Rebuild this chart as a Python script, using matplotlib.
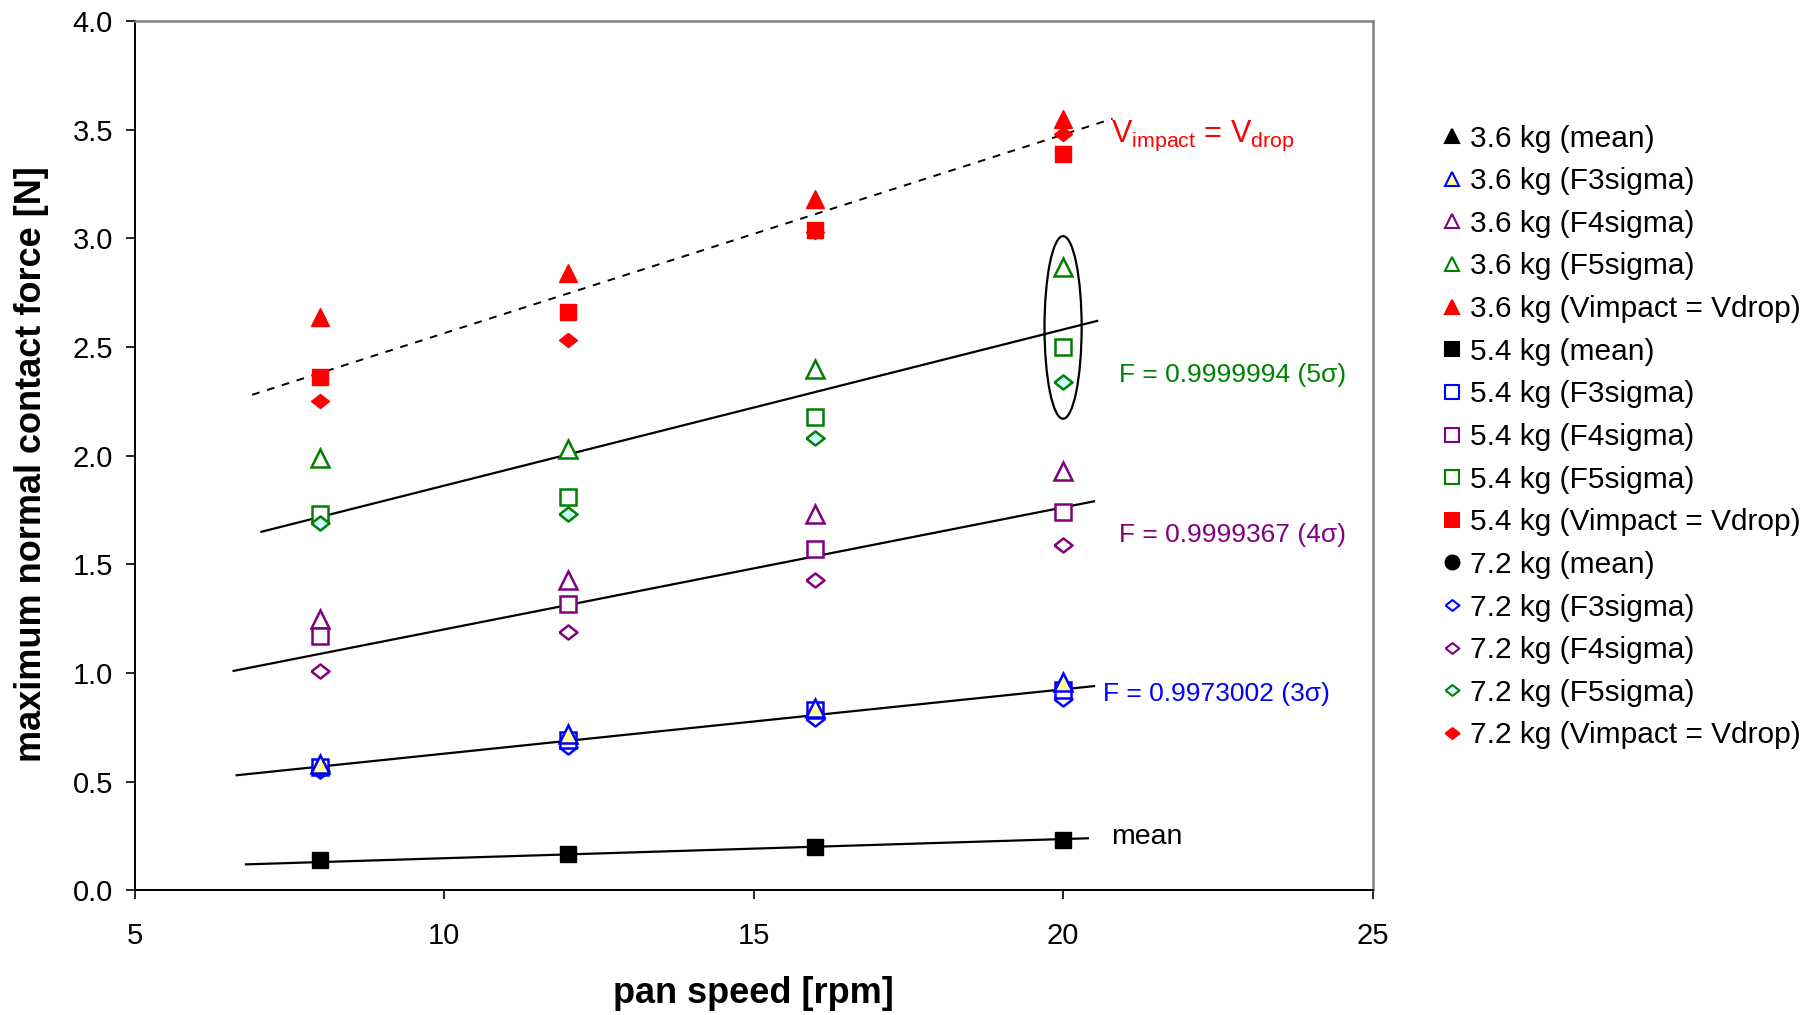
import numpy as np
import matplotlib
matplotlib.use("Agg")
import matplotlib.pyplot as plt
from matplotlib.patches import Ellipse

plt.rcParams['font.family'] = ['Liberation Sans', 'DejaVu Sans']
plt.rcParams['mathtext.fontset'] = 'custom'
plt.rcParams['mathtext.rm'] = 'Liberation Sans'

# pan speed [rpm]
rpm = [8, 12, 16, 20]

# maximum normal contact force [N]
mean_36 = [0.14, 0.17, 0.20, 0.23]
mean_54 = [0.14, 0.17, 0.20, 0.23]
mean_72 = [0.14, 0.17, 0.20, 0.23]
f3_36 = [0.58, 0.72, 0.84, 0.96]
f3_54 = [0.57, 0.69, 0.83, 0.92]
f3_72 = [0.55, 0.66, 0.79, 0.88]
f4_36 = [1.25, 1.43, 1.73, 1.93]
f4_54 = [1.17, 1.32, 1.57, 1.74]
f4_72 = [1.01, 1.19, 1.43, 1.59]
f5_36 = [1.99, 2.03, 2.40, 2.87]
f5_54 = [1.73, 1.81, 2.18, 2.50]
f5_72 = [1.69, 1.73, 2.08, 2.34]
vd_36 = [2.64, 2.84, 3.18, 3.55]
vd_54 = [2.36, 2.66, 3.04, 3.39]
vd_72 = [2.25, 2.53, 3.03, 3.48]

# trend line end points (x, y)
vd_fit_x, vd_fit_y = [6.9, 20.8], [2.28, 3.55]
f5_fit_x, f5_fit_y = [7.05, 20.55], [1.65, 2.62]
f4_fit_x, f4_fit_y = [6.6, 20.5], [1.01, 1.79]
f3_fit_x, f3_fit_y = [6.65, 20.5], [0.53, 0.94]
mean_fit_x, mean_fit_y = [6.8, 20.4], [0.12, 0.24]

BLUE = '#0000FF'
PURPLE = '#800080'
GREEN = '#008000'
RED = '#FF0000'
diamond = [(-1, 0), (0, 0.78), (1, 0), (0, -0.78), (-1, 0)]

fig = plt.figure(figsize=(18.18, 10.15), dpi=100)
ax = fig.add_axes([0.074, 0.1227, 0.681, 0.8567])

# trend lines
ax.plot(vd_fit_x, vd_fit_y, color='black', lw=1.4, ls=(0, (4, 4)), zorder=2)
ax.plot(f5_fit_x, f5_fit_y, color='black', lw=1.6, zorder=2)
ax.plot(f4_fit_x, f4_fit_y, color='black', lw=1.6, zorder=2)
ax.plot(f3_fit_x, f3_fit_y, color='black', lw=1.6, zorder=2)
ax.plot(mean_fit_x, mean_fit_y, color='black', lw=1.6, zorder=2)

ms = 13
mew = 1.8
series = [
    (mean_36, dict(marker='^', color='black', ms=ms - 4), '3.6 kg (mean)'),
    (f3_36, dict(marker='^', mec=BLUE, mfc='#FFFF99', ms=ms, mew=mew), '3.6 kg (F3sigma)'),
    (f4_36, dict(marker='^', mec=PURPLE, mfc='white', ms=ms, mew=mew), '3.6 kg (F4sigma)'),
    (f5_36, dict(marker='^', mec=GREEN, mfc='white', ms=ms, mew=mew), '3.6 kg (F5sigma)'),
    (vd_36, dict(marker='^', color=RED, ms=ms), '3.6 kg (Vimpact = Vdrop)'),
    (mean_54, dict(marker='s', color='black', ms=ms - 1), '5.4 kg (mean)'),
    (f3_54, dict(marker='s', mec=BLUE, mfc='white', ms=ms - 2, mew=mew), '5.4 kg (F3sigma)'),
    (f4_54, dict(marker='s', mec=PURPLE, mfc='white', ms=ms - 2, mew=mew), '5.4 kg (F4sigma)'),
    (f5_54, dict(marker='s', mec=GREEN, mfc='white', ms=ms - 2, mew=mew), '5.4 kg (F5sigma)'),
    (vd_54, dict(marker='s', color=RED, ms=ms - 1), '5.4 kg (Vimpact = Vdrop)'),
    (mean_72, dict(marker='o', color='black', ms=ms - 4), '7.2 kg (mean)'),
    (f3_72, dict(marker=diamond, mec=BLUE, mfc='white', ms=ms, mew=mew), '7.2 kg (F3sigma)'),
    (f4_72, dict(marker=diamond, mec=PURPLE, mfc='white', ms=ms, mew=mew), '7.2 kg (F4sigma)'),
    (f5_72, dict(marker=diamond, mec=GREEN, mfc='#CCFFFF', ms=ms, mew=mew), '7.2 kg (F5sigma)'),
    (vd_72, dict(marker=diamond, color=RED, ms=ms), '7.2 kg (Vimpact = Vdrop)'),
]
zorders = [3, 5, 5, 5, 5, 6, 4, 5, 5, 5, 3, 3, 5, 5, 4]
handles = []
for (vals, style, label), z in zip(series, zorders):
    h, = ax.plot(rpm, vals, ls='none', label=label, zorder=z, **style)
    handles.append(h)

# ellipse around the 5 sigma points at 20 rpm
ax.add_patch(Ellipse((20, 2.59), 0.6, 0.84, fill=False, ec='black', lw=1.6, zorder=6))

# annotations
ax.text(20.77, 3.47, r'V$_{\mathregular{impact}}$ = V$_{\mathregular{drop}}$', color=RED,
        fontsize=22, va='center', ha='left')
ax.text(20.9, 2.37, 'F = 0.9999994 (5σ)', color=GREEN, fontsize=19, va='center')
ax.text(20.9, 1.635, 'F = 0.9999367 (4σ)', color=PURPLE, fontsize=19, va='center')
ax.text(20.65, 0.905, 'F = 0.9973002 (3σ)', color=BLUE, fontsize=19, va='center')
ax.text(20.77, 0.245, 'mean', color='black', fontsize=20.5, va='center')

# axes
ax.set_xlim(5, 25)
ax.set_ylim(0, 4)
ax.set_xticks([5, 10, 15, 20, 25])
ax.set_yticks(np.arange(0, 4.01, 0.5))
ax.yaxis.set_major_formatter(matplotlib.ticker.FormatStrFormatter('%.1f'))
ax.tick_params(axis='both', direction='out', length=6.5, width=1.2, labelsize=21)
ax.tick_params(axis='x', pad=16)
ax.tick_params(axis='y', pad=9)
for side in ['left', 'bottom']:
    ax.spines[side].set_color('black')
    ax.spines[side].set_linewidth(1.4)
for side in ['top', 'right']:
    ax.spines[side].set_color('#808080')
    ax.spines[side].set_linewidth(1.8)

ax.set_xlabel('pan speed [rpm]', fontsize=26, fontweight='bold')
ax.xaxis.set_label_coords(0.5, -0.098)
ax.set_ylabel('maximum normal contact force [N]', fontsize=26, fontweight='bold')
ax.yaxis.set_label_coords(-0.069, 0.49)

leg = fig.legend(handles=handles, loc='upper left', bbox_to_anchor=(0.7855, 0.892),
                 frameon=False, fontsize=21.5, handlelength=0.6,
                 handletextpad=0.3, labelspacing=0.49, borderpad=0)
# uniform marker size in the legend
for lh in leg.legend_handles:
    lh.set_markersize(10)
    lh.set_markeredgewidth(1.5)

fig.savefig('out.png', dpi=100)
